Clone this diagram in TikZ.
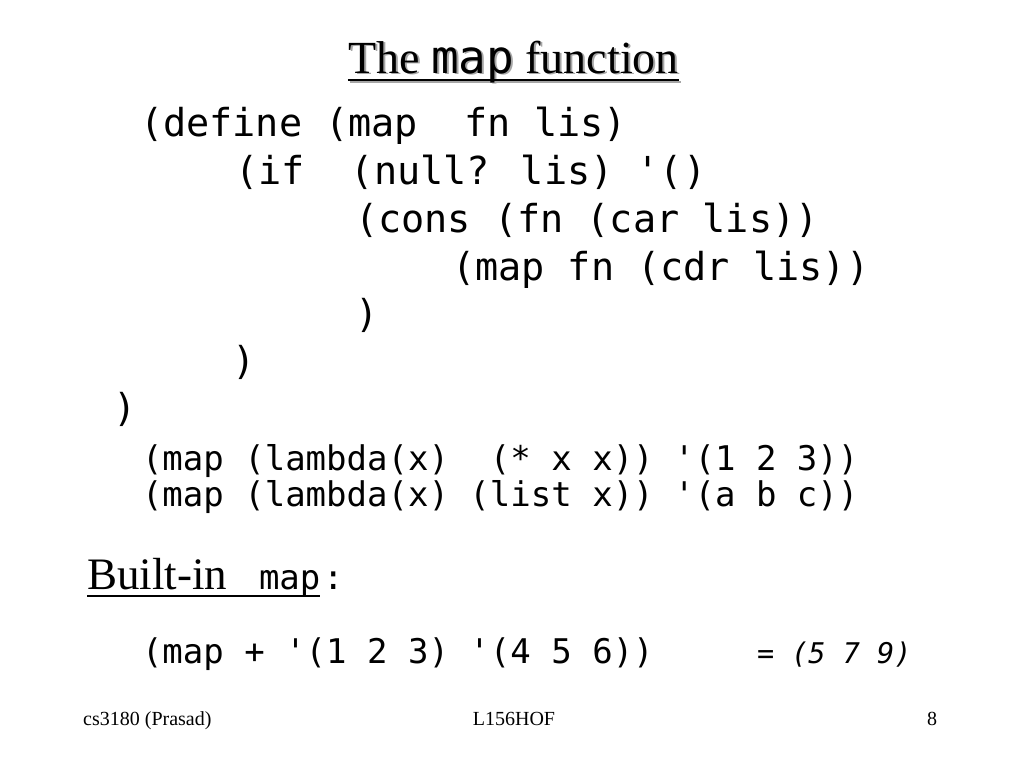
\documentclass[tikz,border=0pt]{standalone}
\usepackage{fontspec}
\setmainfont{Liberation Serif}
\newfontfamily\codefont{DejaVu Sans Mono}
\begin{document}
\begin{tikzpicture}[x=1pt,y=-1pt,
  txt/.style={anchor=base west,inner sep=0pt,outer sep=0pt},
  code/.style={txt,font=\codefont\fontsize{38.5}{40}\selectfont},
  codes/.style={txt,font=\codefont\fontsize{34}{36}\selectfont},
  ttl/.style={anchor=base,inner sep=0pt,font=\fontsize{46}{48}\selectfont},
  foot/.style={anchor=base,inner sep=0pt,font=\fontsize{20}{22}\selectfont}]
\useasboundingbox[fill=white] (0,0) rectangle (1024,768);
% title with shadow
\node[ttl,text=black!35] (tsh) at (515.5,74.5) {The {\codefont map} function};
\draw[black!35,line width=2pt] ([yshift=-7pt]tsh.base west) -- ([yshift=-7pt]tsh.base east);
\node[ttl] (title) at (513.5,73) {The {\codefont map} function};
\draw[line width=2pt] ([yshift=-7pt]title.base west) -- ([yshift=-7pt]title.base east);
% code block
\node[code] (l1) at (140,136) {(define (map~~fn lis)};
\node[code] (l2) at (235,184) {(if~~(null? lis) '()};
\node[code] (l3) at (355,232) {(cons (fn (car lis))};
\node[code] (l4) at (452,280) {(map fn (cdr lis))};
\node[code] (l5) at (355,327) {)};
\node[code] (l6) at (232,374) {)};
\node[code] (l7) at (113,421) {)};
\node[codes] (e1) at (142,470) {(map (lambda(x)~~(* x x)) '(1 2 3))};
\node[codes] (e2) at (142,506) {(map (lambda(x) (list x)) '(a b c))};
% built-in
\node[txt,font=\fontsize{45}{47}\selectfont] (b1) at (87,589) {Built-in};
\node[txt,font=\codefont\fontsize{34}{36}\selectfont] (b2) at (259,589) {map};
\node[txt,font=\codefont\fontsize{34}{36}\selectfont] (b3) at (323,589) {:};
\draw[line width=1.5pt] ([yshift=-7pt]b1.base west) -- ([yshift=-7pt]b2.base east);
\node[codes] (m1) at (142,663) {(map + '(1 2 3) '(4 5 6))};
\node[txt,font=\codefont\itshape\fontsize{28.5}{30}\selectfont] (m2) at (757,663) {= (5 7 9)};
% footer
\node[foot,anchor=base west] (f1) at (83,725) {cs3180 (Prasad)};
\node[foot] (f2) at (514,725) {L156HOF};
\node[foot] (f3) at (932,725) {8};
\end{tikzpicture}
\end{document}
